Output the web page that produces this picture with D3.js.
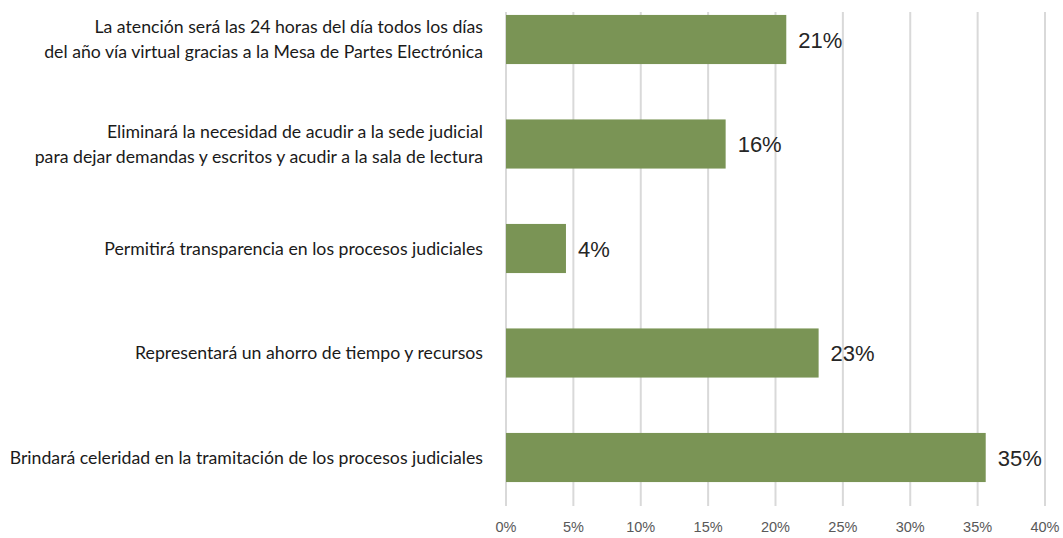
<!DOCTYPE html>
<html><head><meta charset="utf-8">
<script src="https://cdn.jsdelivr.net/npm/d3@7"></script>
<style>body{margin:0;background:#fff}</style>
</head><body>
<svg id="c" width="1063" height="538"></svg>
<script>
const categories = [
  ["La atención será las 24 horas del día todos los días","del año vía virtual gracias a la Mesa de Partes Electrónica"],
  ["Eliminará la necesidad de acudir a la sede judicial","para dejar demandas y escritos y acudir a la sala de lectura"],
  ["Permitirá transparencia en los procesos judiciales"],
  ["Representará un ahorro de tiempo y recursos"],
  ["Brindará celeridad en la tramitación de los procesos judiciales"]
];
const values = [20.8, 16.3, 4.45, 23.2, 35.6];
const labels = ["21%", "16%", "4%", "23%", "35%"];
const ticks = [0, 5, 10, 15, 20, 25, 30, 35, 40];

const svg = d3.select("#c");
const x = d3.scaleLinear().domain([0, 40]).range([506, 1045]);
const y = d3.scaleBand().domain(d3.range(categories.length)).range([-12.75, 509.75])
  .paddingInner(0.53).paddingOuter(0.265);

// gridlines
svg.append("g").selectAll("line").data(ticks).join("line")
  .attr("x1", d => x(d)).attr("x2", d => x(d))
  .attr("y1", 12).attr("y2", 506)
  .attr("stroke", "#d9d9d9").attr("stroke-width", 2);

// tick labels
svg.append("g").selectAll("text").data(ticks).join("text")
  .attr("x", d => x(d)).attr("y", 532)
  .attr("text-anchor", "middle")
  .attr("font-family", "Liberation Sans, Arial, sans-serif")
  .attr("font-size", 14.5).attr("fill", "#595959")
  .text(d => d + "%");

// bars
svg.append("g").selectAll("rect").data(values).join("rect")
  .attr("x", x(0)).attr("y", (d, i) => y(i))
  .attr("width", d => x(d) - x(0)).attr("height", y.bandwidth())
  .attr("fill", "#7a9455");

// value labels
svg.append("g").selectAll("text").data(values).join("text")
  .attr("x", d => x(d) + 12).attr("y", (d, i) => y(i) + y.bandwidth() / 2 + 8)
  .attr("font-family", "Liberation Sans, Arial, sans-serif")
  .attr("font-size", 22).attr("fill", "#262626")
  .text((d, i) => labels[i]);

// category labels
const cg = svg.append("g");
categories.forEach((lines, i) => {
  const cy = y(i) + y.bandwidth() / 2;
  const n = lines.length;
  lines.forEach((t, j) => {
    cg.append("text")
      .attr("x", 483)
      .attr("y", cy + (j - (n - 1) / 2) * 25 + 6)
      .attr("text-anchor", "end")
      .attr("font-family", "Lato, 'Open Sans', sans-serif")
      .attr("font-size", 17.7).attr("fill", "#1a1a1a")
      .text(t);
  });
});
</script>
</body></html>
